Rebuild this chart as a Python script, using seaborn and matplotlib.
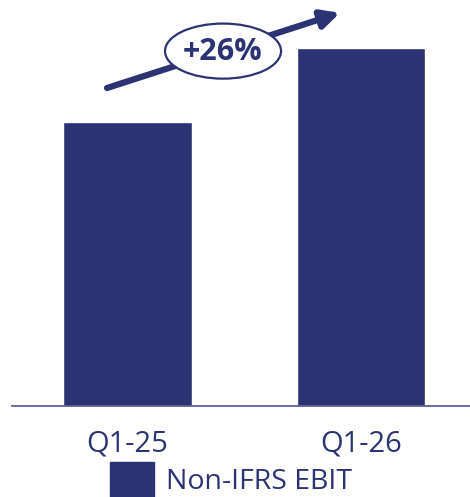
import matplotlib
matplotlib.use("Agg")
import matplotlib.pyplot as plt
from matplotlib.patches import Ellipse, Patch
import seaborn as sns
import pandas as pd

quarters = ["Q1-25", "Q1-26"]
ebit = [100, 126]
series_name = "Non-IFRS EBIT"
growth_label = "+26%"

NAVY = "#2b3372"
AXIS = "#5b6094"

sns.set_theme(style="white")
plt.rcParams["font.family"] = ["Open Sans", "DejaVu Sans"]

df = pd.DataFrame({"quarter": quarters, "ebit": ebit})

fig = plt.figure(figsize=(4.70, 4.97), dpi=100)
ax = fig.add_axes([12 / 470, 91 / 497, 1 - 12 / 470, 406 / 497])

sns.barplot(data=df, x="quarter", y="ebit", color=NAVY, saturation=1,
            width=0.552, ax=ax)

ax.set_xlim(-0.495, 1.467)
ax.set_ylim(0, 143)
for s in ["top", "right", "left"]:
    ax.spines[s].set_visible(False)
ax.spines["bottom"].set_color(AXIS)
ax.spines["bottom"].set_linewidth(1.3)
ax.set_yticks([])
ax.set_xlabel("")
ax.set_ylabel("")
ax.tick_params(axis="x", length=0, pad=17, labelsize=21, labelcolor=NAVY)

# growth arrow with the percentage badge
ax.annotate("", xy=(0.91, 138.5), xytext=(-0.088, 112.0),
            arrowprops=dict(arrowstyle="-|>,head_length=0.9,head_width=0.45",
                            color=NAVY, lw=4.5, shrinkA=0, shrinkB=0),
            annotation_clip=False)
ax.add_patch(Ellipse((0.409, 125.0), 0.497, 19.4, facecolor="white",
                     edgecolor=NAVY, lw=1.6, zorder=5, clip_on=False))
ax.text(0.409, 124.6, growth_label, ha="center", va="center", fontsize=22,
        fontweight="bold", color=NAVY, zorder=6)

handle = Patch(facecolor=NAVY, edgecolor=NAVY)
leg = fig.legend([handle], [series_name], loc="upper left",
                 bbox_to_anchor=(110 / 470, 1 - 462 / 497), frameon=False,
                 fontsize=20.5, handlelength=1.55, handleheight=1.55,
                 handletextpad=0.4, borderpad=0, borderaxespad=0)
for t in leg.get_texts():
    t.set_color(NAVY)

fig.savefig("out.png", dpi=100)
